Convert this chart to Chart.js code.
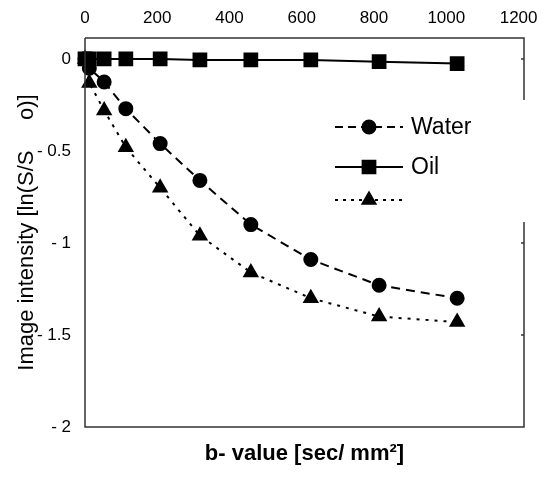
<!DOCTYPE html>
<html>
<head>
<meta charset="utf-8">
<script src="https://cdn.jsdelivr.net/npm/chart.js@4"></script>
<style>
  html, body { margin: 0; padding: 0; background: #fff; }
  #wrap { width: 555px; height: 477px; }
</style>
</head>
<body>
<div id="wrap"><canvas id="chart"></canvas></div>
<script>
// b-values
const bValues = [0, 12, 53, 113, 208, 318, 459, 625, 814, 1030];
const water = [0, -0.05, -0.125, -0.27, -0.46, -0.66, -0.9, -1.09, -1.23, -1.3];
const oil = [0, 0, 0, 0, 0, -0.005, -0.005, -0.005, -0.015, -0.025];
const third = [0, -0.13, -0.28, -0.48, -0.7, -0.96, -1.16, -1.3, -1.4, -1.43];
const seriesNames = ["Water", "Oil", ""];
const xTicks = [0, 200, 400, 600, 800, 1000, 1200];
const yTicks = [0, -0.5, -1, -1.5, -2];
const yTickLabels = ["0", "- 0.5", "- 1", "- 1.5", "- 2"];

const FONT = "'Liberation Sans', Arial, sans-serif";

function toPoints(vals) {
  return bValues.map((b, i) => ({ x: b, y: vals[i] }));
}

// plot frame, with the right edge broken where the legend sits
const framePlugin = {
  id: "frame",
  beforeDraw(chart) {
    const c = chart.ctx;
    c.save();
    c.fillStyle = "#fff";
    c.fillRect(0, 0, chart.width, chart.height);
    c.restore();
  },
  afterDraw(chart) {
    const a = chart.chartArea;
    const c = chart.ctx;
    c.save();
    c.strokeStyle = "#333";
    c.lineWidth = 1.5;
    c.beginPath();
    c.moveTo(a.left, a.top);
    c.lineTo(a.right, a.top);
    c.lineTo(a.right, 100);
    c.moveTo(a.right, 222);
    c.lineTo(a.right, a.bottom);
    c.lineTo(a.left, a.bottom);
    c.lineTo(a.left, a.top);
    c.stroke();
    // small ticks on the right edge
    const y = chart.scales.y;
    [0, -1, -1.5].forEach(v => {
      const py = y.getPixelForValue(v);
      c.beginPath();
      c.moveTo(a.right - 3, py);
      c.lineTo(a.right, py);
      c.stroke();
    });

    // legend
    const rows = [
      { y: 127, dash: [8, 5], style: "circle", r: 6.5 },
      { y: 167, dash: [], style: "rect", r: 9 },
      { y: 200, dash: [3, 5], style: "triangle", r: 7.5 }
    ];
    rows.forEach((row, i) => {
      c.strokeStyle = "#000";
      c.fillStyle = "#000";
      c.lineWidth = 2;
      c.setLineDash(row.dash);
      c.beginPath();
      c.moveTo(335, row.y);
      c.lineTo(403, row.y);
      c.stroke();
      c.setLineDash([]);
      Chart.helpers.drawPoint(c, { pointStyle: row.style, radius: row.r, borderWidth: 1 }, 369, row.y);
      if (seriesNames[i]) {
        c.font = "23px " + FONT;
        c.textBaseline = "middle";
        c.textAlign = "left";
        c.fillText(seriesNames[i], 411, row.y + 1);
      }
    });
    c.restore();
  }
};

const ctx = document.getElementById("chart").getContext("2d");
new Chart(ctx, {
  type: "line",
  data: {
    datasets: [
      {
        label: seriesNames[0],
        data: toPoints(water),
        borderColor: "#000",
        backgroundColor: "#000",
        borderWidth: 2,
        borderDash: [9, 6],
        pointStyle: "circle",
        pointRadius: 6.5,
        clip: false
      },
      {
        label: seriesNames[1],
        data: toPoints(oil),
        borderColor: "#000",
        backgroundColor: "#000",
        borderWidth: 2,
        pointStyle: "rect",
        pointRadius: 9,
        clip: false
      },
      {
        label: seriesNames[2],
        data: toPoints(third),
        borderColor: "#000",
        backgroundColor: "#000",
        borderWidth: 2,
        borderDash: [3, 6],
        pointStyle: "triangle",
        pointRadius: 7.5,
        clip: false
      }
    ]
  },
  options: {
    responsive: true,
    maintainAspectRatio: false,
    animation: false,
    layout: { padding: { left: 0, right: 31, top: 0, bottom: 0 } },
    plugins: {
      legend: { display: false },
      tooltip: { enabled: false }
    },
    scales: {
      x: {
        type: "linear",
        position: "top",
        min: 0,
        max: 1215,
        afterBuildTicks: s => { s.ticks = xTicks.map(v => ({ value: v })); },
        afterFit: s => { s.height = 38; },
        grid: { display: false, drawTicks: false },
        border: { display: false },
        ticks: {
          color: "#000",
          font: { family: FONT, size: 17 },
          padding: 9,
          maxRotation: 0,
          callback: v => String(v)
        }
      },
      x2: {
        type: "linear",
        position: "bottom",
        min: 0,
        max: 1215,
        afterFit: s => { s.height = 50; },
        grid: { display: false, drawTicks: false },
        border: { display: false },
        ticks: { display: false },
        title: {
          display: true,
          text: "b- value [sec/ mm²]",
          color: "#000",
          font: { family: FONT, size: 22, weight: "bold" },
          padding: { top: 0, bottom: 10 }
        }
      },
      y: {
        type: "linear",
        min: -2,
        max: 0.114,
        afterBuildTicks: s => { s.ticks = yTicks.map(v => ({ value: v })); },
        afterFit: s => { s.width = 85; },
        grid: { display: false, drawTicks: false },
        border: { display: false },
        ticks: {
          color: "#000",
          font: { family: FONT, size: 17 },
          padding: 14,
          callback: v => yTickLabels[yTicks.indexOf(v)]
        },
        title: {
          display: true,
          text: "Image intensity [ln(S/S     o)]",
          color: "#000",
          font: { family: FONT, size: 22 },
          padding: { top: 14, bottom: 0 }
        }
      }
    }
  },
  plugins: [framePlugin]
});
</script>
</body>
</html>
